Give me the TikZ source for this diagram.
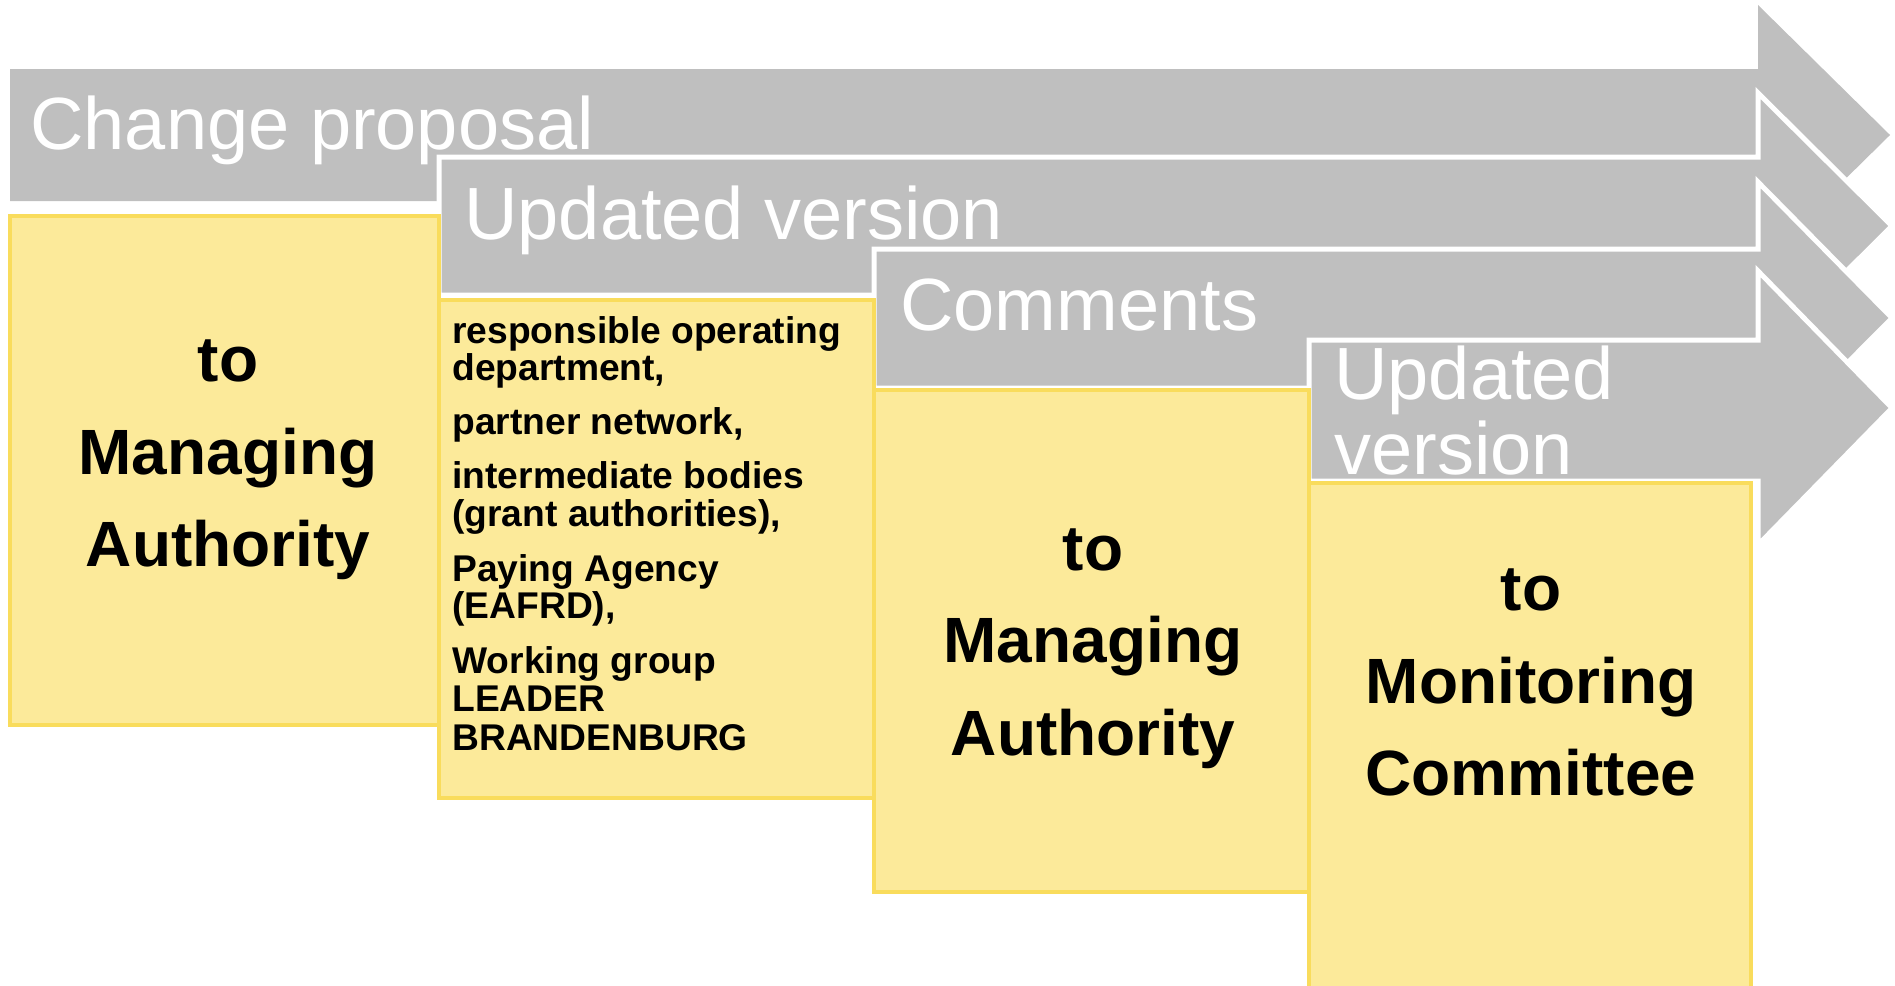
\documentclass[tikz,border=0pt]{standalone}
\usepackage{fontspec}
\setmainfont{Liberation Sans}
\definecolor{arrowgray}{HTML}{BFBFBF}
\definecolor{boxfill}{HTML}{FCEA9A}
\definecolor{boxline}{HTML}{F9DC5C}
\begin{document}
\begin{tikzpicture}[x=0.5pt,y=-0.5pt,
  band/.style={fill=arrowgray, draw=white, line width=2.5pt, line join=miter},
  ybox/.style={fill=boxfill, draw=boxline, line width=2.2pt},
  bandtext/.style={text=white, font=\fontsize{37}{37}\selectfont, anchor=base west, inner sep=0pt},
  bigtext/.style={font=\bfseries\fontsize{32}{32}\selectfont, anchor=base, inner sep=0pt},
  smalltext/.style={font=\bfseries\fontsize{18.6}{18.6}\selectfont, anchor=base west, inner sep=0pt}]
\useasboundingbox (0,0) rectangle (1895,985);
\clip (0,0) rectangle (1895,985);
% arrows
\fill[arrowgray] (10,69) -- (1758,69) -- (1758,5) -- (1890,135) -- (1758,265) -- (1758,201) -- (10,201) -- cycle;
\draw[band] (439,157) -- (1758,157) -- (1758,93) -- (1892,226) -- (1758,359) -- (1758,295) -- (439,295) -- cycle;
\draw[band] (874,249) -- (1758,249) -- (1758,182) -- (1892,318) -- (1758,453) -- (1758,388) -- (874,388) -- cycle;
\draw[band] (1309,340) -- (1758,340) -- (1758,271) -- (1892,408) -- (1758,545) -- (1758,481) -- (1309,481) -- cycle;
% band texts
\node[bandtext] (t1) at (30,149) {Change proposal};
\node[bandtext] (t2) at (464,239) {Updated version};
\node[bandtext] (t3) at (900,330) {Comments};
\begin{scope}
\clip (1311,344) rectangle (1756,478);
\node[bandtext] (t4a) at (1334,399) {Updated};
\node[bandtext] (t4b) at (1334,474) {version};
\end{scope}
% yellow boxes
\draw[ybox] (10,216) rectangle (439,725);
\draw[ybox] (439,300) rectangle (874,798);
\draw[ybox] (874,390) rectangle (1309,892);
\draw[ybox] (1309,483) rectangle (1751,1000);
% box 1
\node[bigtext] (b1a) at (228,381) {to};
\node[bigtext] (b1b) at (228,474) {Managing};
\node[bigtext] (b1c) at (228,566) {Authority};
% box 2
\node[smalltext] (b2a) at (452,343) {responsible operating};
\node[smalltext] (b2b) at (452,380) {department,};
\node[smalltext] (b2c) at (452,434) {partner network,};
\node[smalltext] (b2d) at (452,488) {intermediate bodies};
\node[smalltext] (b2e) at (452,526) {(grant authorities),};
\node[smalltext] (b2f) at (452,581) {Paying Agency};
\node[smalltext] (b2g) at (452,618) {(EAFRD),};
\node[smalltext] (b2h) at (452,673) {Working group};
\node[smalltext] (b2i) at (452,711) {LEADER};
\node[smalltext] (b2j) at (452,750) {BRANDENBURG};
% box 3
\node[bigtext] (b3a) at (1093,570) {to};
\node[bigtext] (b3b) at (1093,662) {Managing};
\node[bigtext] (b3c) at (1093,755) {Authority};
% box 4
\node[bigtext] (b4a) at (1531,610) {to};
\node[bigtext] (b4b) at (1531,703) {Monitoring};
\node[bigtext] (b4c) at (1531,795) {Committee};
\end{tikzpicture}
\end{document}
